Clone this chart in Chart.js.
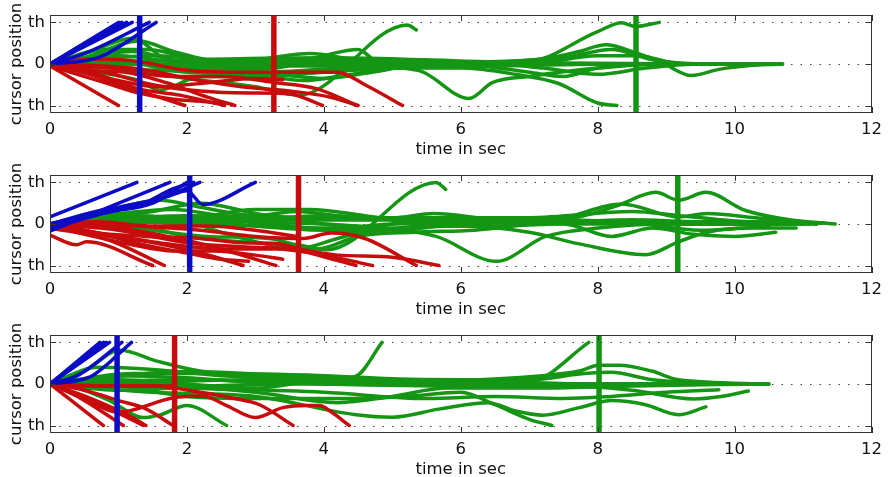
<!DOCTYPE html>
<html>
<head>
<meta charset="utf-8">
<script src="https://cdn.jsdelivr.net/npm/chart.js@4.4.0/dist/chart.umd.min.js"></script>
<style>
  body { margin: 0; background: #fff; width: 889px; height: 477px; overflow: hidden; position: relative; }
  canvas { position: absolute; left: 0; }
</style>
</head>
<body>
<canvas id="c1" width="889" height="160" style="top:0px"></canvas>
<canvas id="c2" width="889" height="160" style="top:160px"></canvas>
<canvas id="c3" width="889" height="160" style="top:320px"></canvas>
<script>
// axis ticks
const xTicks = [0, 2, 4, 6, 8, 10, 12];
const yTicks = [-1, 0, 1];
const yTickLabels = ['th', '0', 'th'];

// vertical markers per panel: [blue, red, green] (seconds)
const p1Marks = [1.31, 3.27, 8.56];
const p2Marks = [2.04, 3.63, 9.17];
const p3Marks = [0.98, 1.82, 8.02];

// panel 1 trajectories [time, position]
const p1Blue = [
  [[0,0],[1.0,1]],
  [[0,0],[1.05,1]],
  [[0,0],[1.12,1]],
  [[0,0],[1.2,1]],
  [[0,0],[0.5,0.25],[1.45,1]],
  [[0,0],[0.7,0.15],[1.55,1]]
];
const p1Red = [
  [[0,-0.05],[1.0,-1]],
  [[0,0],[0.5,-0.2],[1.0,-0.5],[1.5,-0.75],[1.97,-1]],
  [[0,0],[0.7,-0.25],[1.3,-0.6],[1.9,-0.75],[2.55,-1]],
  [[0,0],[0.8,-0.2],[1.5,-0.5],[2.2,-0.65],[2.9,-0.7],[3.5,-0.72],[3.98,-1]],
  [[0,0],[0.9,-0.1],[1.8,-0.3],[2.5,-0.3],[3.3,-0.45],[3.9,-0.6],[4.49,-1]],
  [[0,0],[0.6,0.12],[1.2,0.08],[2.0,-0.15],[2.9,-0.2],[3.6,-0.2],[4.2,-0.2],[4.6,-0.5],[5.15,-1]],
  [[0,0],[1.0,-0.4],[1.6,-0.55],[2.3,-0.45],[3.0,-0.35],[3.4,-0.38]],
  [[0,0],[0.5,-0.15],[1.1,-0.2],[1.7,-0.45],[2.3,-0.8],[2.7,-1]],
  [[0,-0.05],[0.8,-0.45],[1.3,-0.7],[1.8,-0.85],[2.2,-0.9],[2.5,-0.95]],
  [[0,0],[1.2,-0.1],[2.2,-0.4],[2.8,-0.55],[3.5,-0.65],[4.1,-0.8],[4.5,-1]]
];
const p1Green = [
  [[0,0],[0.6,0.3],[1.2,0.62],[1.7,0.1],[2.5,-0.1],[3.5,0.05],[5,0],[7,0],[9,0],[10.7,0]],
  [[0,0],[0.8,0.35],[1.4,0.35],[2.2,0.1],[3.0,0.05],[4.0,0.1],[5.5,0.05],[7.5,0.02],[9.5,0],[10.6,0]],
  [[0,0],[1.0,0.2],[2.0,0.0],[3.0,-0.1],[4.0,0.05],[6.0,0.0],[8.0,0.0],[10.0,0.0],[10.7,0]],
  [[0,0],[0.7,-0.2],[1.3,-0.4],[1.6,-0.63],[2.2,-0.3],[3.0,-0.3],[4.0,-0.2],[5.0,-0.1],[6.5,-0.05],[8.5,0],[10.5,0]],
  [[0,0],[1.0,-0.1],[2.0,-0.35],[3.0,-0.55],[3.64,-0.75],[5.22,0.94],[5.35,0.82]],
  [[0,0],[1.5,0.2],[3.0,0.0],[4.5,-0.05],[5.39,-0.16],[6.12,-0.83],[6.46,-0.45],[7.0,-0.3],[8.0,-0.1],[9.0,0],[10.5,0]],
  [[0,0],[2.0,0.0],[4.0,0.0],[5.5,0.05],[6.95,0.05],[8.0,0.78],[8.35,0.99],[8.55,0.9],[8.9,1.0]],
  [[0,0],[1.5,-0.15],[3.0,-0.2],[4.5,-0.1],[6.0,-0.1],[6.8,-0.25],[7.43,-0.47],[8.0,-0.94],[8.28,-1]],
  [[0,0],[2,0.1],[4,0.15],[5.5,0.1],[6.5,0.05],[7.3,0.15],[7.73,0.3],[8.12,0.46],[8.55,0.27],[8.94,0.03],[9.37,-0.28],[9.77,-0.13],[10.15,-0.05],[10.7,0]],
  [[0,0],[1,0.05],[2.5,-0.15],[3.3,-0.1],[4,0.2],[4.5,0.35],[4.8,0.05],[6,0.05],[7.5,0.15],[8.2,0.35],[8.8,0.1],[9.5,0],[10.4,0]],
  [[0,0],[1.5,0.0],[2.5,-0.15],[3.3,-0.25],[4.0,-0.35],[4.7,-0.2],[5.5,0.0],[6.3,-0.05],[7.0,-0.2],[7.5,-0.3],[8.0,-0.1],[9,0],[10.3,0]],
  [[0,0],[1.2,0.3],[2.0,0.05],[3.0,0.1],[3.8,0.25],[4.5,0.1],[6,0.05],[7,0.0],[8,0.2],[8.6,0.2],[9.2,0.0],[10,0]],
  [[0,0],[0.5,0.15],[1.3,0.55],[1.8,0.3],[2.6,0.0],[3.3,-0.05],[5,-0.05],[7,0],[9,0],[10.2,0]],
  [[0,0],[1,0.05],[2,-0.2],[3,-0.25],[3.7,-0.4],[4.2,-0.3],[5,-0.1],[6.5,0.0],[7.2,-0.1],[8,-0.25],[8.7,-0.1],[9.5,0],[10.5,0]]
];

// panel 2
const p2Blue = [
  [[0,0.17],[1.27,1]],
  [[0,-0.17],[1.75,1]],
  [[0,0],[0.9,0.3],[1.5,0.5],[2.0,1]],
  [[0,-0.1],[1.0,0.35],[1.6,0.6],[2.19,1]],
  [[0,0],[1.0,0.4],[1.7,0.65],[2.0,0.8],[2.23,0.47],[3.0,1]],
  [[0,0],[0.8,0.35],[1.3,0.45],[1.8,0.85],[2.1,1]]
];
const p2Red = [
  [[0,-0.27],[0.39,-0.5],[0.53,-0.43],[1.5,-1]],
  [[0,-0.1],[0.8,-0.35],[1.67,-1]],
  [[0,0],[0.8,-0.25],[1.5,-0.45],[2.2,-0.7],[2.82,-1]],
  [[0,0],[1.0,-0.1],[2.0,-0.4],[2.6,-0.65],[3.3,-1]],
  [[0,0],[0.6,-0.2],[1.4,-0.3],[2.2,-0.35],[2.8,-0.45],[3.35,-0.48],[3.8,-0.7],[4.47,-1]],
  [[0,0],[1.0,-0.3],[1.8,-0.5],[2.5,-0.6],[3.3,-0.6],[4.0,-0.75],[4.71,-1]],
  [[0,0],[1.2,-0.05],[2.2,-0.15],[3.0,-0.3],[3.7,-0.35],[4.1,-0.22],[4.6,-0.35],[5.35,-1]],
  [[0,0],[1.0,-0.15],[2.0,-0.45],[2.8,-0.55],[3.6,-0.6],[4.2,-0.75],[5.0,-0.8],[5.68,-1]],
  [[0,0],[0.7,0.05],[1.5,-0.05],[2.3,-0.05],[3.0,-0.15],[3.6,-0.3]],
  [[0,-0.05],[1.2,-0.5],[1.8,-0.65],[2.4,-0.65],[3.0,-0.75],[3.4,-0.85]],
  [[0,0],[0.5,-0.15],[1.5,-0.55],[2.0,-0.7],[2.5,-0.85],[2.9,-0.9]]
];
const p2Green = [
  [[0,0],[0.8,0.3],[1.6,0.57],[2.2,0.4],[3.0,0.2],[3.6,0.3],[4.5,0.15],[6,0.15],[7.5,0.1],[8.5,0.05],[10,0],[11,0]],
  [[0,0],[1,0.25],[1.8,0.35],[2.5,0.2],[3.5,0.1],[5,0.1],[6.5,0.05],[8,0.0],[9.5,0.0],[10.8,0]],
  [[0,0],[1,0.1],[2,0.0],[3,0.1],[4,0.2],[5,0.15],[5.6,0.25],[6.5,0.1],[7.5,0.05],[8.5,0.1],[9.5,0.05],[10.5,0.05],[11.1,0]],
  [[0,0],[1,0.05],[2,-0.3],[3,-0.45],[3.6,-0.5],[4.04,-0.62],[5.64,1],[5.78,0.83]],
  [[0,0],[1.5,0.15],[3,0.05],[4.5,-0.05],[5.64,-0.3],[6.52,-0.9],[7.24,-0.3],[8,-0.1],[9,0],[10.5,0]],
  [[0,0],[2,0.15],[4,0.1],[6,0.1],[7,0.05],[7.73,0.17],[8.3,0.45],[8.85,0.76],[9.18,0.57],[9.58,0.76],[10.15,0.33],[10.8,0.1],[11.47,0]],
  [[0,0],[2,0.2],[4,0.15],[6,0.1],[7.3,0.1],[8.35,0.48],[9.18,0.17],[9.6,0.25],[10.3,0.15],[11.2,0]],
  [[0,0],[2,0.05],[4,-0.15],[5,-0.1],[6,-0.05],[7,-0.2],[7.73,-0.48],[8.7,-0.74],[9.18,-0.43],[9.6,-0.2],[10.2,-0.1],[10.9,-0.1]],
  [[0,0],[1.5,0.1],[3,-0.05],[4.2,-0.1],[5,0.0],[6.5,0.02],[7.5,0.05],[8.5,0.02],[9.5,-0.15],[9.96,-0.12],[10.5,-0.05]],
  [[0,0],[1,0.2],[2.5,0.1],[3.5,-0.05],[4.5,-0.2],[5.5,-0.05],[6.5,-0.05],[7.5,0.0],[8.2,-0.3],[8.8,-0.1],[9.4,-0.25],[10,-0.3],[10.6,-0.2]],
  [[0,0],[2,0.1],[3,0.35],[3.8,0.35],[4.6,0.2],[5.3,0.05],[5.8,0.15],[7,0.15],[8.5,0.3],[9.2,0.2],[10.2,0.05],[11.3,0.02]],
  [[0,0],[1.5,0.3],[2.2,0.5],[3,0.25],[4,0.0],[5,-0.15],[6,0.0],[7.8,0.05],[9,0.0],[10.4,0.05],[11,0]],
  [[0,0],[1.2,-0.1],[2.3,-0.3],[3.2,-0.35],[3.9,-0.6],[4.5,-0.3],[5.3,-0.2],[6.2,-0.15],[7.5,0.05],[9,0.05],[10.7,0]],
  [[0,0],[1.3,0.2],[2,0.05],[2.7,-0.3],[3.2,-0.5],[3.6,-0.6],[4.2,-0.35],[5,0.0],[6,0.1],[8,0.05],[10,0],[11.2,0]]
];

// panel 3
const p3Blue = [
  [[0,0],[0.73,1]],
  [[0,0],[0.78,1]],
  [[0,0],[0.82,1]],
  [[0,0],[0.87,1]],
  [[0,0],[0.45,0.1],[0.63,0.21],[1.19,1]],
  [[0,0],[0.4,0.2],[1.05,1]]
];
const p3Red = [
  [[0,0],[0.78,-1]],
  [[0,0],[0.4,-0.3],[1.07,-1]],
  [[0,0],[0.5,-0.35],[1.0,-0.7],[1.36,-1]],
  [[0,0],[0.6,-0.35],[1.2,-0.8],[1.4,-1]],
  [[0,0],[0.5,-0.15],[1.0,-0.4],[1.4,-0.6],[1.8,-1]],
  [[0,0],[0.4,-0.25],[1.0,-0.68],[1.8,-0.33],[2.23,-0.29],[2.58,-0.52],[3.0,-0.81],[3.4,-0.57],[3.75,-0.52],[3.94,-0.52],[4.08,-0.64],[4.37,-1]],
  [[0,0],[0.6,-0.05],[1.5,-0.05],[2.2,-0.2],[2.7,-0.35],[3.06,-0.5],[3.55,-1]],
  [[0,0],[0.9,-0.05],[1.8,-0.05]]
];
const p3Green = [
  [[0,0],[0.5,0.3],[1.02,0.81],[1.56,0.55],[2.19,0.31],[3.64,0.14],[5,0.1],[6.5,0.05],[8,0.0],[10.5,0]],
  [[0,0],[0.7,0.4],[1.5,0.35],[2.5,0.2],[4,0.1],[6,0.05],[8,0.0],[10.3,0]],
  [[0,0],[1,0.2],[2,0.15],[3,0.05],[4.5,0.05],[6,0.0],[8,0.0],[10.5,0]],
  [[0,0],[0.8,0.05],[2,-0.05],[3.5,0.0],[5,0.0],[7,0],[9,0],[10.4,0]],
  [[0,0],[1,0.1],[2,0.0],[3,-0.1],[3.8,0.05],[4.47,0.19],[4.85,1]],
  [[0,0],[1.5,0.05],[3,0.1],[4.5,0.05],[6,0.0],[7.04,0.07],[7.87,1]],
  [[0,0],[0.4,-0.1],[0.87,-0.4],[1.36,-0.81],[1.6,-0.75],[2.0,-0.52],[2.58,-1]],
  [[0,0],[1,-0.05],[2,-0.3],[3,-0.35],[4.2,-0.35],[5.2,-0.3],[6.0,-0.2],[6.5,-0.5],[7.0,-0.85],[7.33,-1]],
  [[0,0],[2,0.3],[4,0.15],[6,0.1],[7.2,0.2],[7.73,0.31],[8.02,0.45],[8.31,0.45],[8.79,0.31],[9.18,0.1],[10.5,0]],
  [[0,0],[1.5,-0.2],[3,-0.3],[4.47,-0.74],[5,-0.8],[5.7,-0.6],[6.4,-0.45],[6.8,-0.65],[7.2,-0.75],[7.73,-0.57],[8.21,-0.4],[8.7,-0.5],[9.18,-0.74],[9.58,-0.55]],
  [[0,0],[2,-0.1],[4,-0.2],[5.5,-0.35],[6.5,-0.3],[7.5,-0.35],[8.2,-0.3],[9,-0.2],[9.77,-0.14]],
  [[0,0],[2,0.1],[4,0.0],[6,-0.05],[7.5,-0.05],[8.5,-0.15],[9.4,-0.36],[9.8,-0.3],[10.2,-0.17]],
  [[0,0],[1.2,0.25],[2.5,0.25],[4,0.2],[5.5,0.1],[7,0.1],[7.8,0.25],[8.2,0.28],[8.8,0.1],[10,0.0]],
  [[0,0],[1,-0.15],[2,-0.1],[3,-0.2],[4.2,-0.45],[5,-0.3],[5.8,-0.1],[7,-0.1],[8.5,-0.05],[10.4,0]]
];

const BLUE = '#0c0cc6';
const RED = '#c60c0c';
const GREEN = '#149614';
const FONT = 'DejaVu Sans, sans-serif';
const FSIZE = 16.5;
const Y_LIM = 1.18;

function toPts(tr) {
    return tr.map(p => ({ x: p[0], y: p[1] }));
}

function trajSets(list, color) {
    return list.map(tr => ({
        data: toPts(tr),
        borderColor: color,
        borderWidth: 3.5,
        pointRadius: 0,
        cubicInterpolationMode: 'monotone',
        borderCapStyle: 'round',
        borderJoinStyle: 'round',
        fill: false
    }));
}

function markSets(marks) {
    const cols = [BLUE, RED, GREEN];
    return marks.map((m, i) => ({
        data: [{ x: m, y: -Y_LIM }, { x: m, y: Y_LIM }],
        borderColor: cols[i],
        borderWidth: 5.5,
        pointRadius: 0,
        fill: false
    }));
}

// dotted grid + matlab style box with inward ticks
const boxPlugin = {
    id: 'box',
    beforeDatasetsDraw(chart) {
        const { ctx, chartArea: a, scales: { y } } = chart;
        ctx.save();
        ctx.strokeStyle = '#444';
        ctx.lineWidth = 1;
        ctx.setLineDash([1.5, 8]);
        ctx.beginPath();
        yTicks.forEach(v => {
            const py = Math.round(y.getPixelForValue(v)) + 0.5;
            ctx.moveTo(a.left, py);
            ctx.lineTo(a.right, py);
        });
        ctx.stroke();
        ctx.restore();
    },
    afterDatasetsDraw(chart) {
        const { ctx, chartArea: a, scales: { x, y } } = chart;
        ctx.save();
        ctx.strokeStyle = '#333';
        ctx.lineWidth = 1;
        ctx.strokeRect(Math.round(a.left) + 0.5, Math.round(a.top) + 0.5, Math.round(a.width) - 1, Math.round(a.height) - 1);
        ctx.beginPath();
        xTicks.forEach(v => {
            const px = Math.round(x.getPixelForValue(v)) + 0.5;
            ctx.moveTo(px, a.bottom); ctx.lineTo(px, a.bottom - 6);
            ctx.moveTo(px, a.top); ctx.lineTo(px, a.top + 6);
        });
        yTicks.forEach(v => {
            const py = Math.round(y.getPixelForValue(v)) + 0.5;
            ctx.moveTo(a.left, py); ctx.lineTo(a.left + 6, py);
            ctx.moveTo(a.right, py); ctx.lineTo(a.right - 6, py);
        });
        ctx.stroke();
        ctx.restore();
    }
};

function makePanel(id, blue, red, green, marks, padTop) {
    const datasets = [
        ...markSets(marks),
        ...trajSets(blue, BLUE),
        ...trajSets(red, RED),
        ...trajSets(green, GREEN)
    ];
    return new Chart(document.getElementById(id), {
        type: 'line',
        data: { datasets: datasets },
        options: {
            responsive: false,
            animation: false,
            events: [],
            layout: { padding: { top: padTop, right: 16, bottom: 0, left: 0 } },
            plugins: { legend: { display: false }, tooltip: { enabled: false } },
            scales: {
                x: {
                    type: 'linear',
                    min: 0,
                    max: 12,
                    grid: { display: false, drawTicks: false },
                    border: { display: false },
                    afterBuildTicks: s => { s.ticks = xTicks.map(v => ({ value: v })); },
                    afterFit: s => { s.height = 47; },
                    ticks: { color: '#111', font: { family: FONT, size: FSIZE }, padding: 7, maxRotation: 0 },
                    title: { display: true, text: 'time in sec', color: '#111', font: { family: FONT, size: FSIZE }, padding: { top: 0, bottom: 0 } }
                },
                y: {
                    min: -Y_LIM,
                    max: Y_LIM,
                    grid: { display: false, drawTicks: false },
                    border: { display: false },
                    afterBuildTicks: s => { s.ticks = yTicks.map(v => ({ value: v })); },
                    afterFit: s => { s.width = 50; },
                    ticks: {
                        color: '#111',
                        font: { family: FONT, size: FSIZE },
                        padding: 5,
                        callback: v => yTickLabels[yTicks.indexOf(v)]
                    },
                    title: { display: true, text: 'cursor position', color: '#111', font: { family: FONT, size: FSIZE }, padding: { top: 7, bottom: 0 } }
                }
            }
        },
        plugins: [boxPlugin]
    });
}

makePanel('c1', p1Blue, p1Red, p1Green, p1Marks, 13);
makePanel('c2', p2Blue, p2Red, p2Green, p2Marks, 12);
makePanel('c3', p3Blue, p3Red, p3Green, p3Marks, 12);
</script>
</body>
</html>
